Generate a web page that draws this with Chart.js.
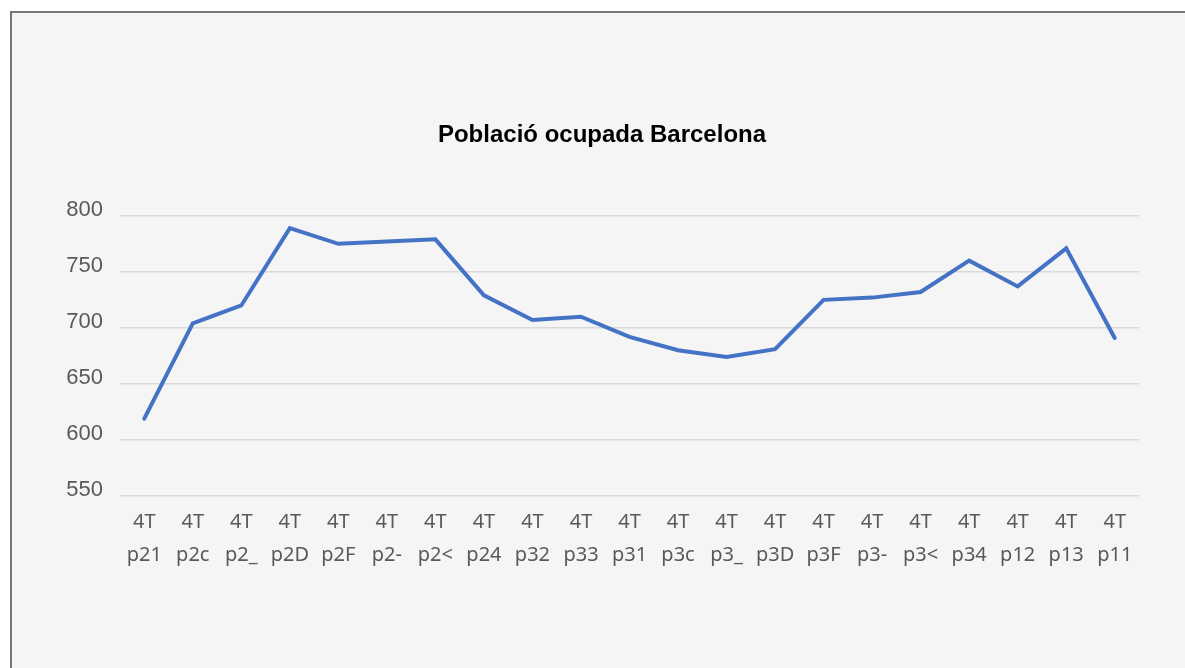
<!DOCTYPE html>
<html>
<head>
<meta charset="utf-8">
<script src="https://cdn.jsdelivr.net/npm/chart.js@4"></script>
<style>
  html, body { margin: 0; padding: 0; background: #ffffff; }
  body { width: 1185px; height: 668px; position: relative; overflow: hidden; }
  #frame {
    position: absolute; left: 10px; top: 11px; width: 1185px; height: 668px;
    background: #f5f5f5; border-left: 2px solid #777; border-top: 2px solid #777;
  }
  #wrap { position: absolute; left: 0; top: 0; width: 1185px; height: 668px; }
</style>
</head>
<body>
<div id="frame"></div>
<div id="wrap"><canvas id="chart"></canvas></div>
<script>
// Dades llegides del gràfic
const quarterTop = ['4T','4T','4T','4T','4T','4T','4T','4T','4T','4T','4T','4T','4T','4T','4T','4T','4T','4T','4T','4T','4T'];
const quarterBottom = ['p21','p2c','p2_','p2D','p2F','p2-','p2<','p24','p32','p33','p31','p3c','p3_','p3D','p3F','p3-','p3<','p34','p12','p13','p11'];
const ocupats = [619, 704, 720, 789, 775, 777, 779, 729, 707, 710, 692, 680, 674, 681, 725, 727, 732, 760, 737, 771, 691];
const yTicks = [550, 600, 650, 700, 750, 800];

const labels = quarterTop.map((t, i) => [t, quarterBottom[i]]);

const ctx = document.getElementById('chart').getContext('2d');
new Chart(ctx, {
  type: 'line',
  data: {
    labels,
    datasets: [{
      label: 'Població ocupada',
      data: ocupats,
      borderColor: '#4472C4',
      borderWidth: 4,
      pointRadius: 0,
      tension: 0,
      fill: false,
      borderCapStyle: 'round'
    }]
  },
  options: {
    responsive: true,
    maintainAspectRatio: false,
    animation: false,
    // padding esquerra per centrar el títol com a l'original
    layout: { padding: { top: 0, right: 46, bottom: 0, left: 65 } },
    plugins: {
      legend: { display: false },
      tooltip: { enabled: false },
      title: {
        display: true,
        text: 'Població ocupada Barcelona',
        color: '#000000',
        font: { family: 'Liberation Sans, Arial, sans-serif', size: 24, weight: 'bold' },
        padding: { top: 121, bottom: 66 }
      }
    },
    scales: {
      y: {
        min: 550,
        max: 800,
        afterBuildTicks: (scale) => { scale.ticks = yTicks.map(v => ({ value: v })); },
        afterFit: (scale) => { scale.width = 55; },
        ticks: {
          color: '#595959',
          padding: 17,
          labelOffset: -6,
          font: { family: 'Liberation Sans, Arial, sans-serif', size: 22 }
        },
        grid: { color: '#d9d9d9', lineWidth: 1.5, drawTicks: false },
        border: { display: false }
      },
      x: {
        offset: true,
        ticks: {
          color: '#595959',
          maxRotation: 0,
          minRotation: 0,
          autoSkip: false,
          padding: 10,
          font: { family: 'Noto Sans, sans-serif', size: 20, lineHeight: 1.65 }
        },
        grid: { display: false, drawTicks: false },
        border: { display: false },
        afterFit: (scale) => { scale.height = 172; }
      }
    }
  }
});
</script>
</body>
</html>
